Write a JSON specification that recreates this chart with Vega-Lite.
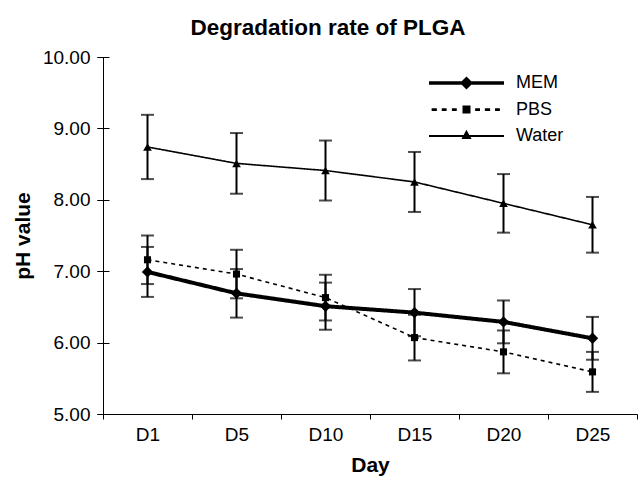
{
  "$schema": "https://vega.github.io/schema/vega-lite/v6.json",
  "width": 534,
  "height": 357,
  "autosize": {"type": "none"},
  "padding": {"left": 103, "top": 57, "right": 1, "bottom": 63},
  "background": "white",
  "config": {
    "font": "Liberation Sans",
    "view": {"stroke": null},
    "axis": {"grid": false, "domainColor": "black", "tickColor": "black", "labelColor": "black", "titleColor": "black", "domainWidth": 1, "tickWidth": 1}
  },
  "title": {"text": "Degradation rate of PLGA", "fontSize": 22.5, "fontWeight": "bold", "color": "black", "anchor": "middle", "frame": "bounds", "baseline": "alphabetic", "offset": -9, "dx": 3},
  "data": {
    "values": [
      {"day": "D1", "series": "MEM", "pH": 6.99, "err": 0.35},
      {"day": "D5", "series": "MEM", "pH": 6.69, "err": 0.34},
      {"day": "D10", "series": "MEM", "pH": 6.51, "err": 0.33},
      {"day": "D15", "series": "MEM", "pH": 6.42, "err": 0.33},
      {"day": "D20", "series": "MEM", "pH": 6.29, "err": 0.30},
      {"day": "D25", "series": "MEM", "pH": 6.06, "err": 0.30},
      {"day": "D1", "series": "PBS", "pH": 7.16, "err": 0.34},
      {"day": "D5", "series": "PBS", "pH": 6.96, "err": 0.34},
      {"day": "D10", "series": "PBS", "pH": 6.63, "err": 0.32},
      {"day": "D15", "series": "PBS", "pH": 6.07, "err": 0.32},
      {"day": "D20", "series": "PBS", "pH": 5.87, "err": 0.30},
      {"day": "D25", "series": "PBS", "pH": 5.59, "err": 0.28},
      {"day": "D1", "series": "Water", "pH": 8.74, "err": 0.45},
      {"day": "D5", "series": "Water", "pH": 8.51, "err": 0.425},
      {"day": "D10", "series": "Water", "pH": 8.41, "err": 0.42},
      {"day": "D15", "series": "Water", "pH": 8.25, "err": 0.42},
      {"day": "D20", "series": "Water", "pH": 7.95, "err": 0.41},
      {"day": "D25", "series": "Water", "pH": 7.65, "err": 0.39}
    ]
  },
  "encoding": {
    "x": {
      "field": "day", "type": "ordinal",
      "sort": ["D1", "D5", "D10", "D15", "D20", "D25"],
      "scale": {"paddingInner": 0, "paddingOuter": 0},
      "axis": {"title": "Day", "titleFontSize": 21, "titleFontWeight": "bold", "labelFontSize": 19, "labelAngle": 0, "tickBand": "extent", "tickSize": 5, "labelPadding": 6, "titlePadding": 10}
    }
  },
  "layer": [
    {
      "mark": {"type": "line", "color": "black"},
      "encoding": {
        "y": {
          "field": "pH", "type": "quantitative",
          "scale": {"domain": [5, 10], "nice": false, "zero": false},
          "axis": {"orient": "left", "title": "pH value", "titleFontSize": 21, "titleFontWeight": "bold", "titlePadding": 9, "labelFontSize": 19, "format": ".2f", "values": [5, 6, 7, 8, 9, 10], "tickSize": 6, "labelPadding": 7}
        },
        "detail": {"field": "series", "type": "nominal"},
        "strokeDash": {"condition": {"test": "datum.series === 'PBS'", "value": [4, 4]}, "value": [1, 0]},
        "strokeWidth": {"condition": {"test": "datum.series === 'MEM'", "value": 4}, "value": 1.6}
      }
    },
    {
      "mark": {"type": "errorbar", "thickness": 2, "color": "black", "ticks": {"size": 13, "thickness": 2, "color": "black"}},
      "encoding": {
        "y": {"field": "pH", "type": "quantitative", "axis": null},
        "yError": {"field": "err"}
      }
    },
    {
      "mark": {"type": "point", "filled": true, "opacity": 1, "color": "black"},
      "encoding": {
        "y": {
          "field": "pH", "type": "quantitative",
          "axis": {"orient": "left", "domain": false, "labels": false, "title": null, "values": [5, 6, 7, 8, 9, 10], "tickSize": 12, "offset": -6}
        },
        "shape": {"condition": [{"test": "datum.series === 'MEM'", "value": "diamond"}, {"test": "datum.series === 'PBS'", "value": "square"}], "value": "triangle-up"},
        "size": {"condition": [{"test": "datum.series === 'MEM'", "value": 130}, {"test": "datum.series === 'PBS'", "value": 50}], "value": 75}
      }
    },
    {
      "mark": {"type": "point", "filled": true, "opacity": 0, "color": "black"},
      "encoding": {
        "y": {"field": "pH", "type": "quantitative", "axis": null},
        "shape": {
          "field": "series", "type": "nominal",
          "scale": {"domain": ["MEM", "PBS", "Water"], "range": [
            "M-1,0H1M0,-0.11L0.11,0L0,0.11L-0.11,0Z",
            "M-0.93,0H-0.79M-0.66,0H-0.53M-0.39,0H-0.26M-0.07,-0.07H0.07V0.07H-0.07ZM0.23,0H0.36M0.49,0H0.63M0.76,0H0.89",
            "M-1,0H1M0,-0.11L0.09,0.05L-0.09,0.05Z"
          ]},
          "legend": {
            "orient": "none", "legendX": 324, "legendY": 15, "title": null, "padding": 0,
            "symbolSize": 5625, "symbolOpacity": 1, "symbolFillColor": "black", "symbolStrokeColor": "black",
            "clipHeight": 22, "rowPadding": 4.5, "labelOffset": 10,
            "labelFontSize": 18, "labelColor": "black", "labelFont": "Liberation Sans"
          }
        },
        "stroke": {
          "field": "series", "type": "nominal",
          "scale": {"domain": ["MEM", "PBS", "Water"], "range": ["black", "black", "black"]},
          "legend": {
            "orient": "none", "legendX": 324, "legendY": 15, "title": null, "padding": 0,
            "symbolSize": 5625, "symbolOpacity": 1, "symbolFillColor": "black", "symbolStrokeColor": "black",
            "clipHeight": 22, "rowPadding": 4.5, "labelOffset": 10,
            "labelFontSize": 18, "labelColor": "black", "labelFont": "Liberation Sans"
          }
        },
        "strokeWidth": {
          "field": "series", "type": "nominal",
          "scale": {"domain": ["MEM", "PBS", "Water"], "range": [3.5, 2, 1.8]},
          "legend": {
            "orient": "none", "legendX": 324, "legendY": 15, "title": null, "padding": 0,
            "symbolSize": 5625, "symbolOpacity": 1, "symbolFillColor": "black", "symbolStrokeColor": "black",
            "clipHeight": 22, "rowPadding": 4.5, "labelOffset": 10,
            "labelFontSize": 18, "labelColor": "black", "labelFont": "Liberation Sans"
          }
        }
      }
    }
  ],
  "resolve": {"axis": {"y": "independent"}}
}
